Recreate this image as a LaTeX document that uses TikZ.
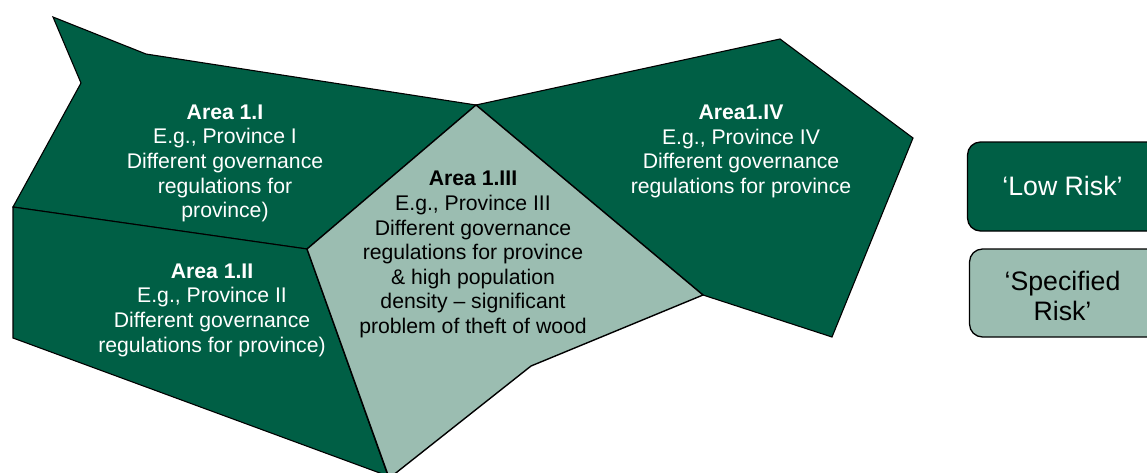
\documentclass[tikz,border=0pt]{standalone}
\usepackage{fontspec}
\setmainfont{Liberation Sans}
\definecolor{darkgreen}{HTML}{005F45}
\definecolor{lightgreen}{HTML}{9BBDB1}
\tikzset{
  low/.style={fill=darkgreen,draw=black,line width=1.1pt,line join=miter},
  spec/.style={fill=lightgreen,draw=black,line width=1.4pt,line join=miter},
  lbl/.style={align=center,font=\fontsize{21.2}{24.6}\selectfont,inner sep=0pt},
  lowt/.style={lbl,text=white},
  spect/.style={lbl,text=black},
  key/.style={rounded corners=13pt,line width=1.3pt}
}
\begin{document}
\begin{tikzpicture}[x=1pt,y=-1pt]
\useasboundingbox (0,0) rectangle (1147,472);
\begin{scope}
\clip (0,0) rectangle (1147,472);
\path[low] (53,17) -- (146,54) -- (476,105) -- (307,249) -- (13,207) -- (81,83) -- cycle;
\path[low] (13,207) -- (307,249) -- (388,476) -- (13,338) -- cycle;
\path[low] (476,105) -- (780,39) -- (913,138) -- (832,337) -- (703,295) -- cycle;
\path[spec] (476,105) -- (703,295) -- (531,366) -- (392,476) -- (388.4,476) -- (307,249) -- cycle;
\path[low,key] (967.5,142) rectangle (1160,231);
\path[spec,key] (969.5,249) rectangle (1160,337);
\end{scope}
\node[lowt] (a1) at (225,163.5) {\textbf{Area 1.I}\\E.g., Province I\\Different governance\\regulations for\\province)};
\node[lowt] (a2) at (212,310) {\textbf{Area 1.II}\\E.g., Province II\\Different governance\\regulations for province)};
\node[spect] (a3) at (473,254.5) {\textbf{Area 1.III}\\E.g., Province III\\Different governance\\regulations for province\\\& high population\\density – significant\\problem of theft of wood};
\node[lowt] (a4) at (741,151.5) {\textbf{Area1.IV}\\E.g., Province IV\\Different governance\\regulations for province};
\node[lowt,font=\fontsize{26.7}{30.5}\selectfont] (k1) at (1062.5,186) {‘Low Risk’};
\node[spect,font=\fontsize{26.7}{30.5}\selectfont] (k2) at (1062.5,296) {‘Specified\\Risk’};
\end{tikzpicture}
\end{document}
